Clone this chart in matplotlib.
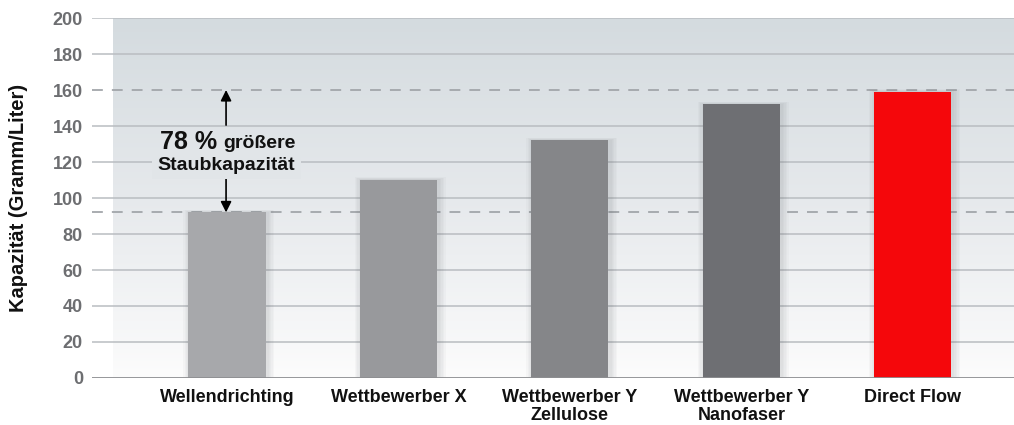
import numpy as np
import matplotlib
matplotlib.use("Agg")
import matplotlib.pyplot as plt
from matplotlib.colors import LinearSegmentedColormap
from matplotlib.patches import Rectangle

plt.rcParams['font.family'] = ['Liberation Sans', 'DejaVu Sans']

categories = ["Wellendrichting", "Wettbewerber X", "Wettbewerber Y\nZellulose",
              "Wettbewerber Y\nNanofaser", "Direct Flow"]
values = [92, 110, 132, 152, 159]
colors = ["#a7a8ab", "#98999c", "#858689", "#6e6f73", "#f5070b"]
yticks = [0, 20, 40, 60, 80, 100, 120, 140, 160, 180, 200]
ref_low = 92   # Wellendrichting
ref_high = 160 # Direct Flow

fig = plt.figure(figsize=(10.14, 4.25), dpi=100)
ax = fig.add_axes([0.0907, 0.1106, 0.9093, 0.847])

x = np.arange(len(categories))
xmin, xmax = -0.787, 4.59
ax.set_xlim(xmin, xmax)
ax.set_ylim(0, 200)

# background gradient (light grey-blue at top to white at bottom)
bg = LinearSegmentedColormap.from_list("bg", ["#fcfcfc", "#e6e9ec", "#d4dbdf"])
grad = np.linspace(0, 1, 256).reshape(-1, 1)
ax.imshow(grad, aspect="auto", cmap=bg, origin="lower",
          extent=[-0.665, xmax, 0, 200], zorder=0)

# gridlines
for t in yticks[1:]:
    if t == 160:
        continue
    ax.axhline(t, color="#b9bdc1", lw=1.1, zorder=1)
ax.axhline(0, color="#8e8f92", lw=1.3, zorder=4)
for r in (ref_low, ref_high):
    ax.axhline(r, color="#a2a6aa", lw=1.3, ls=(0, (6, 5)), zorder=1)

# soft shadows behind bars
w = 0.45
for xi, v in zip(x, values):
    for k in range(1, 6):
        d = k * 0.008
        ax.add_patch(Rectangle((xi - w / 2 - d + 0.01, 0), w + 2 * d, v + d * 40,
                               color="#606468", alpha=0.035, lw=0, zorder=2))

ax.bar(x, values, width=w, color=colors, zorder=3)

ax.set_xticks(x)
ax.set_xticklabels(categories, fontsize=13, fontweight="bold", color="#111111",
                   linespacing=1.1)
ax.set_yticks(yticks)
ax.set_yticklabels([str(t) for t in yticks], fontsize=13, fontweight="bold",
                   color="#6d6e71")
ax.tick_params(axis="both", length=0)
ax.tick_params(axis="y", pad=6.5)
ax.tick_params(axis="x", pad=8)
for s in ax.spines.values():
    s.set_visible(False)

ax.set_ylabel("Kapazität (Gramm/Liter)", fontsize=14.5, fontweight="bold",
              color="#111111")
ax.yaxis.set_label_coords(-0.069, 0.5)

# annotation: 78 % bigger dust capacity
ax_x = -0.005
ax.annotate("", xy=(ax_x, ref_high), xytext=(ax_x, 140.5),
            arrowprops=dict(arrowstyle="-|>", color="black", lw=1.2,
                            mutation_scale=16, shrinkA=0, shrinkB=0), zorder=6)
ax.annotate("", xy=(ax_x, ref_low), xytext=(ax_x, 111.5),
            arrowprops=dict(arrowstyle="-|>", color="black", lw=1.2,
                            mutation_scale=16, shrinkA=0, shrinkB=0), zorder=6)
ax.text(ax_x, 118.3, "Staubkapazität", ha="center", va="center", fontsize=14,
        fontweight="bold", color="#111111", zorder=6,
        bbox=dict(facecolor="#e1e5e8", edgecolor="none", pad=4))
ax.text(-0.058, 131.3, "78 %", ha="right", va="center", fontsize=18,
        fontweight="bold", color="#111111", zorder=6)
ax.text(-0.02, 130.5, "größere", ha="left", va="center", fontsize=14,
        fontweight="bold", color="#111111", zorder=6)

fig.savefig("out.png", dpi=100)
